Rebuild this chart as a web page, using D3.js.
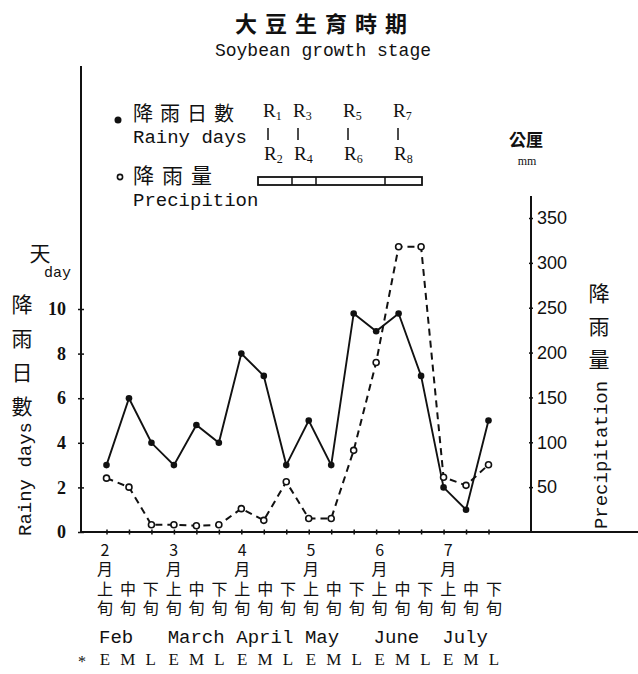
<!DOCTYPE html>
<html>
<head>
<meta charset="utf-8">
<script src="https://cdn.jsdelivr.net/npm/d3@7"></script>
<style>
  body { margin: 0; background: #fff; }
  svg { display: block; }
  .cjk { font-family: "Noto Sans CJK TC", "Noto Sans CJK SC", sans-serif; }
  .mono { font-family: "Liberation Mono", "DejaVu Sans Mono", monospace; }
  .serif { font-family: "Liberation Serif", "DejaVu Serif", serif; }
  .vert { writing-mode: vertical-rl; text-orientation: upright; }
</style>
</head>
<body>
<script>
// ---------------- data ----------------
const categories = [
  "2月上旬","2月中旬","2月下旬","3月上旬","3月中旬","3月下旬",
  "4月上旬","4月中旬","4月下旬","5月上旬","5月中旬","5月下旬",
  "6月上旬","6月中旬","6月下旬","7月上旬","7月中旬","7月下旬"
];
const rainyDays = [3, 6, 4, 3, 4.8, 4, 8, 7, 3, 5, 3, 9.8, 9, 9.8, 7, 2, 1, 5];
const precipitation = [60, 50, 8, 8, 7, 8, 26, 13, 56, 15, 15, 91, 189, 318, 318, 61, 52, 75];
const monthNumbers = ["2", "3", "4", "5", "6", "7"];
const monthNames = ["Feb", "March", "April", "May", "June", "July"];
const xunLabels = ["上", "中", "下"];
const emlLabels = ["E", "M", "L"];
const leftTicks = [0, 2, 4, 6, 8, 10];
const rightTicks = [50, 100, 150, 200, 250, 300, 350];
const stagesTop = ["1", "3", "5", "7"];
const stagesBottom = ["2", "4", "6", "8"];

// ---------------- setup ----------------
const W = 638, H = 674;
const ink = "#111";
const svg = d3.select("body").append("svg").attr("width", W).attr("height", H);

const x = d3.scalePoint().domain(categories).range([106.5, 488.5]);
const xl = d3.scalePoint().domain(categories).range([105, 494]);
const yL = d3.scaleLinear().domain([0, 10]).range([532, 309]);
const yR = d3.scaleLinear().domain([0, 350]).range([532, 218]);

const leftX = 81, rightX = 531, baseY = 532;

// ---------------- axes ----------------
svg.append("line").attr("x1", leftX).attr("x2", leftX).attr("y1", 66).attr("y2", baseY)
  .attr("stroke", ink).attr("stroke-width", 2);
svg.append("line").attr("x1", rightX).attr("x2", rightX).attr("y1", 196).attr("y2", baseY)
  .attr("stroke", ink).attr("stroke-width", 2);
svg.append("line").attr("x1", leftX).attr("x2", W).attr("y1", baseY).attr("y2", baseY)
  .attr("stroke", ink).attr("stroke-width", 2);

const gL = svg.append("g").attr("transform", `translate(${leftX},0)`)
  .call(d3.axisLeft(yL).tickValues(leftTicks).tickSizeInner(3).tickSizeOuter(0).tickPadding(12));
gL.select(".domain").remove();
gL.selectAll(".tick line").attr("x2", 3).attr("x1", -3).attr("stroke", ink).attr("stroke-width", 1.5);
gL.selectAll(".tick text").style("font-size", "18px")
  .style("font-weight", "bold").attr("fill", ink)
  .style("font-family", '"Liberation Serif", serif');

const gR = svg.append("g").attr("transform", `translate(${rightX},0)`)
  .call(d3.axisRight(yR).tickValues(rightTicks).tickSizeInner(3).tickSizeOuter(0).tickPadding(3));
gR.select(".domain").remove();
gR.selectAll(".tick line").attr("x1", -2).attr("x2", 2).attr("stroke", ink).attr("stroke-width", 1.5);
gR.selectAll(".tick text").style("font-size", "18px").attr("fill", ink)
  .style("font-family", '"Liberation Sans", sans-serif');

const gB = svg.append("g").attr("transform", `translate(0,${baseY})`)
  .call(d3.axisBottom(x).tickSize(0).tickFormat(""));
gB.select(".domain").remove();
gB.selectAll(".tick").append("line").attr("y1", -2.5).attr("y2", 2.5)
  .attr("stroke", ink).attr("stroke-width", 1.5);

// ---------------- lines ----------------
const lineRain = d3.line().x((d, i) => x(categories[i])).y(d => yL(d));
const linePrec = d3.line().x((d, i) => x(categories[i])).y(d => yR(d));

svg.append("path").datum(precipitation).attr("d", linePrec)
  .attr("fill", "none").attr("stroke", ink).attr("stroke-width", 2)
  .attr("stroke-dasharray", "7,5");
svg.append("path").datum(rainyDays).attr("d", lineRain)
  .attr("fill", "none").attr("stroke", ink).attr("stroke-width", 1.9);

svg.selectAll(".pp").data(precipitation).enter().append("circle")
  .attr("cx", (d, i) => x(categories[i])).attr("cy", d => yR(d)).attr("r", 3)
  .attr("fill", "#fff").attr("stroke", ink).attr("stroke-width", 1.6);
svg.selectAll(".rp").data(rainyDays).enter().append("circle")
  .attr("cx", (d, i) => x(categories[i])).attr("cy", d => yL(d)).attr("r", 3.3)
  .attr("fill", ink);

// ---------------- titles ----------------
svg.append("text").attr("class", "cjk").attr("x", 325).attr("y", 22)
  .attr("text-anchor", "middle").attr("dominant-baseline", "central")
  .style("font-size", "22px").style("font-weight", "bold").style("letter-spacing", "8px").attr("fill", ink)
  .text("大豆生育時期");
svg.append("text").attr("class", "mono").attr("x", 323).attr("y", 56)
  .attr("text-anchor", "middle").style("font-size", "18px").attr("fill", ink)
  .text("Soybean growth stage");

// ---------------- legend ----------------
svg.append("circle").attr("cx", 118).attr("cy", 120).attr("r", 3.5).attr("fill", ink);
svg.append("text").attr("class", "cjk").attr("x", 133).attr("y", 112)
  .attr("dominant-baseline", "central").style("font-size", "20px")
  .style("letter-spacing", "7px").attr("fill", ink).text("降雨日數");
svg.append("text").attr("class", "mono").attr("x", 133).attr("y", 143)
  .style("font-size", "19px").attr("fill", ink).text("Rainy days");
svg.append("circle").attr("cx", 120).attr("cy", 177).attr("r", 2.6)
  .attr("fill", "#fff").attr("stroke", ink).attr("stroke-width", 1.6);
svg.append("text").attr("class", "cjk").attr("x", 133).attr("y", 174)
  .attr("dominant-baseline", "central").style("font-size", "21px")
  .style("letter-spacing", "8px").attr("fill", ink).text("降雨量");
svg.append("text").attr("class", "mono").attr("x", 133).attr("y", 206)
  .style("font-size", "19px").attr("fill", ink).text("Precipition");

// growth stages
const stageX = [263, 293, 343, 393];
stagesTop.forEach((s, i) => {
  const t = svg.append("text").attr("class", "serif").attr("x", stageX[i]).attr("y", 117)
    .style("font-size", "19px").attr("fill", ink);
  t.append("tspan").text("R");
  t.append("tspan").attr("dy", 3).style("font-size", "12px").text(s);
  svg.append("line").attr("x1", stageX[i] + 5).attr("x2", stageX[i] + 5)
    .attr("y1", 128).attr("y2", 140).attr("stroke", ink).attr("stroke-width", 1.5);
  const b = svg.append("text").attr("class", "serif").attr("x", stageX[i] + 1).attr("y", 160)
    .style("font-size", "19px").attr("fill", ink);
  b.append("tspan").text("R");
  b.append("tspan").attr("dy", 3).style("font-size", "12px").text(stagesBottom[i]);
});
svg.append("rect").attr("x", 258).attr("y", 177).attr("width", 164).attr("height", 8)
  .attr("fill", "none").attr("stroke", ink).attr("stroke-width", 1.8);
[292, 316, 385].forEach(px => svg.append("line").attr("x1", px).attr("x2", px)
  .attr("y1", 177).attr("y2", 185).attr("stroke", ink).attr("stroke-width", 1.5));

// ---------------- left axis titles ----------------
svg.append("text").attr("class", "cjk").attr("x", 40).attr("y", 252)
  .attr("text-anchor", "middle").attr("dominant-baseline", "central")
  .style("font-size", "21px").attr("fill", ink).text("天");
svg.append("text").attr("class", "mono").attr("x", 44).attr("y", 277)
  .style("font-size", "15px").attr("fill", ink).text("day");
svg.append("text").attr("class", "cjk vert").attr("x", 22).attr("y", 294)
  .style("font-size", "21px").style("letter-spacing", "13px").attr("fill", ink).text("降雨日數");
svg.append("text").attr("class", "mono").attr("transform", "translate(31,479) rotate(-90)")
  .attr("text-anchor", "middle").style("font-size", "19px").attr("fill", ink).text("Rainy days");

// ---------------- right axis titles ----------------
svg.append("text").attr("class", "cjk").attr("x", 526).attr("y", 138)
  .attr("text-anchor", "middle").attr("dominant-baseline", "central")
  .style("font-size", "17px").style("font-weight", "bold").attr("fill", ink).text("公厘");
svg.append("text").attr("class", "serif").attr("x", 527).attr("y", 165)
  .attr("text-anchor", "middle").style("font-size", "12px").attr("fill", ink).text("mm");
svg.append("text").attr("class", "cjk vert").attr("x", 599).attr("y", 283)
  .style("font-size", "21px").style("letter-spacing", "12px").attr("fill", ink).text("降雨量");
svg.append("text").attr("class", "mono").attr("transform", "translate(607,455) rotate(-90)")
  .attr("text-anchor", "middle").style("font-size", "19px").attr("fill", ink).text("Precipitation");

// ---------------- x labels (one vertical text column per period) ----------------
categories.forEach((c, i) => {
  const cx = xl(c);
  const label = (i % 3 === 0 ? monthNumbers[i / 3] + "月" : "") + xunLabels[i % 3] + "旬";
  svg.append("text").attr("class", "cjk vert").attr("x", cx)
    .attr("y", i % 3 === 0 ? 542 : 581)
    .style("font-size", "16px").style("letter-spacing", "3.3px").attr("fill", ink)
    .text(label);
  svg.append("text").attr("class", "serif").attr("x", cx).attr("y", 665)
    .attr("text-anchor", "middle").style("font-size", "17px").attr("fill", ink)
    .text(emlLabels[i % 3]);
});
monthNames.forEach((m, i) => {
  svg.append("text").attr("class", "mono").attr("x", xl(categories[i * 3]) - 6).attr("y", 643)
    .style("font-size", "19px").attr("fill", ink).text(m);
});
svg.append("text").attr("class", "serif").attr("x", 82).attr("y", 667)
  .attr("text-anchor", "middle").style("font-size", "16px").attr("fill", ink).text("*");
</script>
</body>
</html>
